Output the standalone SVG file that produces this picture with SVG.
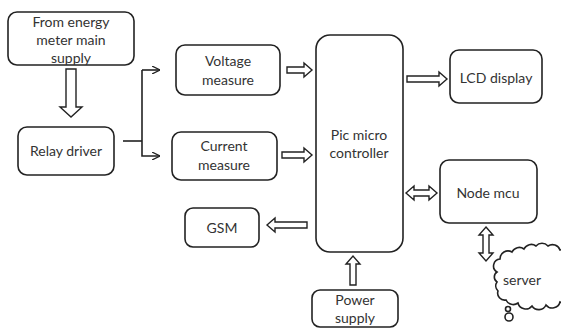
<svg xmlns="http://www.w3.org/2000/svg" width="561" height="328" viewBox="0 0 561 328">
<style>
.box{fill:#fff;stroke:#222;stroke-width:1.6}
.arr{fill:#fff;stroke:#222;stroke-width:1.4;stroke-linejoin:miter}
.ln{fill:none;stroke:#222;stroke-width:1.6}
text{font-family:Lato,"Open Sans","Liberation Sans",sans-serif;font-size:14px;fill:#333;text-anchor:middle}
</style>
<defs>
<marker id="ah" viewBox="0 0 10 10" refX="10" refY="5" markerWidth="8" markerHeight="8" markerUnits="userSpaceOnUse" orient="auto">
<path d="M0,0 L10,5 L0,10" fill="none" stroke="#222" stroke-width="1.6"/>
</marker>
</defs>
<rect width="561" height="328" fill="#fff"/>
<g id="connectors">
<polyline class="ln" points="123,141 142,141"/>
<polyline class="ln" points="142,70 142,156 160,156" marker-end="url(#ah)"/>
<path class="ln" d="M142,70 L160,70" marker-end="url(#ah)"/>
<path class="arr" d="M66,69 H76 V107 H82 L71,117 L60,107 H66 Z"/>
<path class="arr" d="M287,67 H304 V63 L312,70 L304,77 V73 H287 Z"/>
<path class="arr" d="M282,152 H304 V148 L312,155 L304,162 V158 H282 Z"/>
<path class="arr" d="M407,76 H439 V72 L447,79 L439,86 V82 H407 Z"/>
<path class="arr" d="M307,222 H275 V218 L267,225 L275,232 V228 H307 Z"/>
<path class="arr" d="M350,285 V264 H346 L353,256 L360,264 H356 V285 Z"/>
<path class="arr" d="M406,193 L414,186 V190 H429 V186 L437,193 L429,200 V196 H414 V200 Z"/>
<path class="arr" d="M486,227 L493,235 H489 V253 H493 L486,261 L479,253 H483 V235 H479 Z"/>
</g>
<g id="n-energy"><rect class="box" x="8" y="12" width="126" height="53" rx="9"/>
<text x="71" y="27">From energy</text><text x="71" y="45">meter main</text><text x="71" y="63">supply</text></g>
<g id="n-relay"><rect class="box" x="18" y="127" width="96" height="48" rx="9"/>
<text x="66" y="156">Relay driver</text></g>
<g id="n-voltage"><rect class="box" x="176" y="45" width="104" height="50" rx="9"/>
<text x="228" y="66">Voltage</text><text x="228" y="85">measure</text></g>
<g id="n-current"><rect class="box" x="172" y="132" width="105" height="48" rx="9"/>
<text x="224" y="151">Current</text><text x="224" y="170">measure</text></g>
<g id="n-pic"><rect class="box" x="316" y="35" width="87" height="217" rx="14"/>
<text x="359" y="140">Pic micro</text><text x="359" y="158">controller</text></g>
<g id="n-lcd"><rect class="box" x="450" y="50" width="92" height="53" rx="9"/>
<text x="496" y="83">LCD display</text></g>
<g id="n-node"><rect class="box" x="440" y="160" width="97" height="63" rx="9"/>
<text x="488" y="198">Node mcu</text></g>
<g id="n-gsm"><rect class="box" x="185" y="208" width="74" height="39" rx="8"/>
<text x="222" y="233">GSM</text></g>
<g id="n-power"><rect class="box" x="312" y="290" width="86" height="37" rx="8"/>
<text x="355" y="305">Power</text><text x="355" y="323">supply</text></g>
<g id="n-server">
<path class="box" d="M497,272 A7,7 0 0 1 500,259 A8,8 0 0 1 512,252 A8,8 0 0 1 524,249 A8,8 0 0 1 536,246 A8,8 0 0 1 548,246 A8,8 0 0 1 560,250 A9,9 0 0 1 572,258 L572,295 A8,8 0 0 1 560,302 A8,8 0 0 1 546,305 A8,8 0 0 1 532,306 A8,8 0 0 1 518,303 A8,8 0 0 1 506,300 A7,7 0 0 1 498,291 A7,7 0 0 1 497,282 A6,6 0 0 1 497,272 Z"/>
<circle class="box" cx="508" cy="309" r="2.5"/>
<circle class="box" cx="509" cy="317" r="4"/>
<text x="522" y="285">server</text></g>
</svg>
